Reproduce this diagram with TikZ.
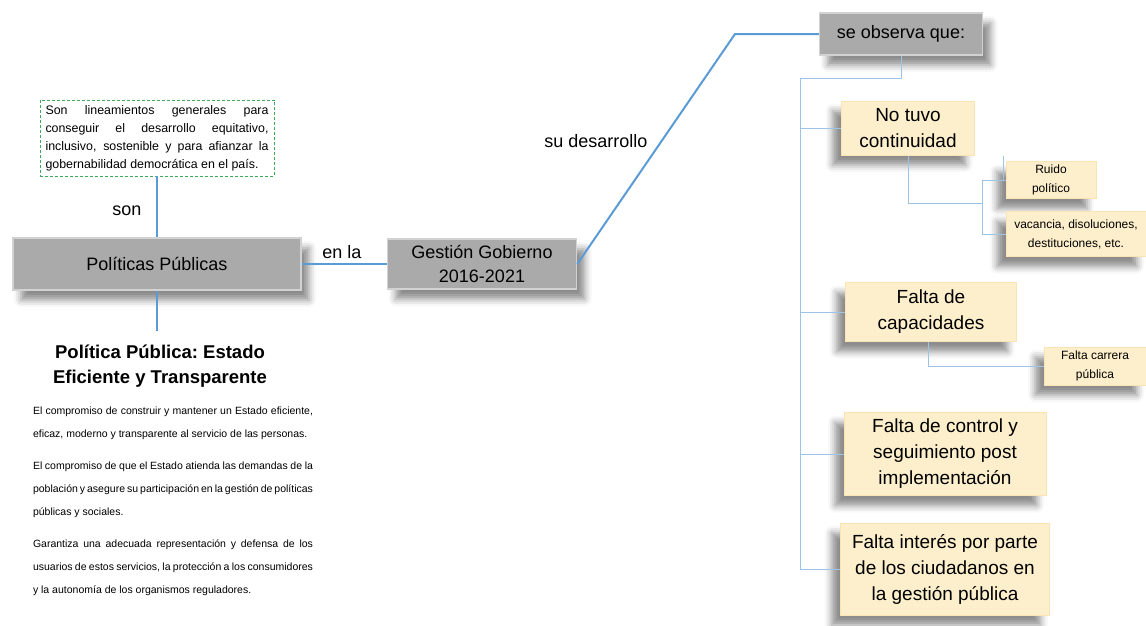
\documentclass[tikz,border=0pt]{standalone}
\usepackage{fontspec}
\setmainfont{Liberation Sans}
\usepackage{tikz}
\usetikzlibrary{shadows.blur}

\definecolor{lineblue}{RGB}{91,155,213}
\definecolor{treeblue}{RGB}{157,195,230}
\definecolor{cream}{RGB}{253,239,203}
\definecolor{creamedge}{RGB}{250,228,180}
\definecolor{dashgreen}{RGB}{60,170,90}

\begin{document}
\begin{tikzpicture}[x=1pt, y=-1pt,
    graybox/.style={draw=gray!35, line width=1.5pt, fill=gray!67, align=center, inner sep=0pt,
        blur shadow={shadow xshift=8pt, shadow yshift=-10pt, shadow blur radius=7pt, shadow opacity=45},
        font=\fontsize{18}{24}\selectfont},
    creambox/.style={draw=creamedge, line width=1pt, fill=cream, align=center, inner sep=0pt,
        blur shadow={shadow xshift=-9pt, shadow yshift=-10pt, shadow blur radius=7pt, shadow opacity=45},
        font=\fontsize{19}{26}\selectfont},
    smallbox/.style={creambox, font=\fontsize{12}{19}\selectfont},
    mainline/.style={lineblue, line width=2pt},
    treeline/.style={treeblue, line width=0.8pt}]
    \useasboundingbox (0,0) rectangle (1146,625);

    % Draw the definition box
    \node[draw=dashgreen, dash pattern=on 3pt off 2pt, text width=223pt, align=justify,
        inner sep=5.5pt, font=\fontsize{12.4}{18}\selectfont] (def) at (157,138)
        {\hyphenpenalty=10000 \exhyphenpenalty=10000 \tolerance=9999 \emergencystretch=20pt
        Son lineamientos generales para conseguir el desarrollo equitativo, inclusivo, sostenible y para afianzar la gobernabilidad democrática en el país.\par};

    % Draw the main gray boxes
    \node[graybox, minimum width=288pt, minimum height=52pt] (pp) at (157,264) {Políticas Públicas};
    \node[graybox, minimum width=189pt, minimum height=50pt] (gg) at (482,264) {Gestión Gobierno\\2016-2021};
    \node[graybox, minimum width=163pt, minimum height=42pt] (so) at (901,34) {se observa que:};

    % Draw the policy text
    \node[align=center, font=\bfseries\fontsize{18.5}{25}\selectfont\frenchspacing] (titulo) at (160,366)
        {Política Pública: Estado\\Eficiente y Transparente};
    \node[text width=280pt, align=justify, font=\fontsize{10.5}{23}\selectfont\frenchspacing] (texto) at (173,501)
        {El compromiso de construir y mantener un Estado eficiente, eficaz, moderno y transparente al servicio de las personas.\par\vspace{9pt}
        El compromiso de que el Estado atienda las demandas de la población y asegure su participación en la gestión de políticas públicas y sociales.\par\vspace{9pt}
        Garantiza una adecuada representación y defensa de los usuarios de estos servicios, la protección a los consumidores y la autonomía de los organismos reguladores.};

    % Draw the cream boxes
    \node[creambox, minimum width=133pt, minimum height=54pt] (nt) at (908,128) {No tuvo\\continuidad};
    \node[creambox, minimum width=171pt, minimum height=59pt] (fc) at (931,312) {Falta de\\capacidades};
    \node[creambox, minimum width=202pt, minimum height=83pt] (fk) at (945,454) {Falta de control y\\seguimiento post\\implementación};
    \node[creambox, minimum width=209pt, minimum height=92pt] (fi) at (945,569) {Falta interés por parte\\de los ciudadanos en\\la gestión pública};
    \node[smallbox, minimum width=90pt, minimum height=37pt] (ru) at (1051,180) {Ruido\\político};
    \node[smallbox, minimum width=140pt, minimum height=45pt] (va) at (1076,234) {vacancia, disoluciones,\\destituciones, etc.};
    \node[smallbox, minimum width=102pt, minimum height=38pt] (fp) at (1095,366) {Falta carrera\\pública};

    % Draw the main connectors
    \draw[mainline] (def.south) -- (def.south |- pp.north);
    \node[font=\fontsize{18}{22}\selectfont] (son) at (127,211) {son};
    \draw[mainline] (pp.east) -- (gg.west);
    \node[font=\fontsize{18}{22}\selectfont] (enla) at (342,252) {en la};
    \draw[mainline] (pp.south) -- ([yshift=10pt]pp.south |- titulo.north);
    \coordinate (codo) at (735,34);
    \draw[mainline] (gg.east) -- (codo) -- (so.west);
    \node[font=\fontsize{18}{22}\selectfont] (sud) at (596,141) {su desarrollo};

    % Draw the tree
    \coordinate (tronco) at (800,78);
    \draw[treeline] (so.south) |- (tronco) -- (tronco |- fi.west);
    \foreach \n in {nt,fc,fk,fi}
        \draw[treeline] (tronco |- \n.west) -- (\n.west);
    \coordinate (rama) at (982,203);
    \draw[treeline] (nt.south) |- (rama);
    \draw[treeline] (rama |- ru.west) -- (rama |- va.west);
    \draw[treeline] (rama |- ru.west) -- (ru.west);
    \draw[treeline] (rama |- va.west) -- (va.west);
    \draw[treeline] ([xshift=-2pt]ru.west) -- ([xshift=-2pt]ru.west |- nt.south);
    \draw[treeline] ([xshift=-3pt]fc.south) |- (fp.west);
\end{tikzpicture}
\end{document}
